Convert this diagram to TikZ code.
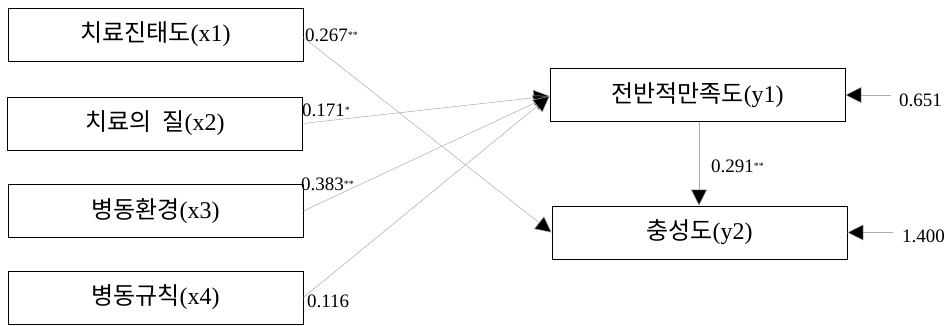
\documentclass[tikz,border=0pt]{standalone}
\usepackage{fontspec}
\setmainfont{Liberation Serif}
\newfontfamily\kr{Noto Sans CJK KR}
\usetikzlibrary{arrows.meta}
\tikzset{
  var/.style={draw=black, line width=0.8pt, fill=white, minimum width=295pt, minimum height=53pt, inner sep=0pt, font=\fontsize{24}{28}\selectfont},
  path/.style={draw=gray!65, line width=0.5pt, -{Triangle[length=16pt,width=16pt,fill=black]}},
  coef/.style={font=\fontsize{19}{22}\selectfont, inner sep=0pt, anchor=west},
}
\newcommand{\sig}[1]{\raisebox{0.3ex}{\fontsize{10}{11}\selectfont #1}}
\begin{document}
\begin{tikzpicture}[x=1pt, y=-1pt]
\useasboundingbox (0,0) rectangle (946,325);
\fill[white] (0,0) rectangle (946,325);
% exogenous variables
\node[var] (x1) at (155.5,34.5) {{\kr 치료진태도}(x1)};
\node[var] (x2) at (155,123.5) {{\kr 치료의\ \ 질}(x2)};
\node[var] (x3) at (155.5,211) {{\kr 병동환경}(x3)};
\node[var] (x4) at (155.5,297.5) {{\kr 병동규칙}(x4)};
% endogenous variables
\node[var] (y1) at (697.5,95) {{\kr 전반적만족도}(y1)};
\node[var] (y2) at (699.5,232.5) {{\kr 충성도}(y2)};
% error terms
\coordinate (e1) at (891,95);
\coordinate (e2) at (893,232.5);
% paths
\draw[path] ([yshift=-3pt]x1.east) -- (y2.west);
\draw[path] (x2.east) -- ([yshift=-1pt]y1.west);
\draw[path] (x3.east) -- ([yshift=-1pt]y1.west);
\draw[path] (x4.east) -- ([yshift=-1pt]y1.west);
\draw[path] (y1.south -| 699,0) -- (y2.north -| 699,0);
\draw[path] (e1) -- (y1.east);
\draw[path] (e2) -- (y2.east);
% coefficients
\node[coef] (c1) at (305,35) {0.267\sig{**}};
\node[coef] (c2) at (302,110) {0.171\sig{*}};
\node[coef] (c3) at (301,184) {0.383\sig{**}};
\node[coef] (c4) at (307,301) {0.116};
\node[coef] (c5) at (711,166) {0.291\sig{**}};
\node[coef] (c6) at (899,100) {0.651};
\node[coef] (c7) at (902,236) {1.400};
\end{tikzpicture}
\end{document}
